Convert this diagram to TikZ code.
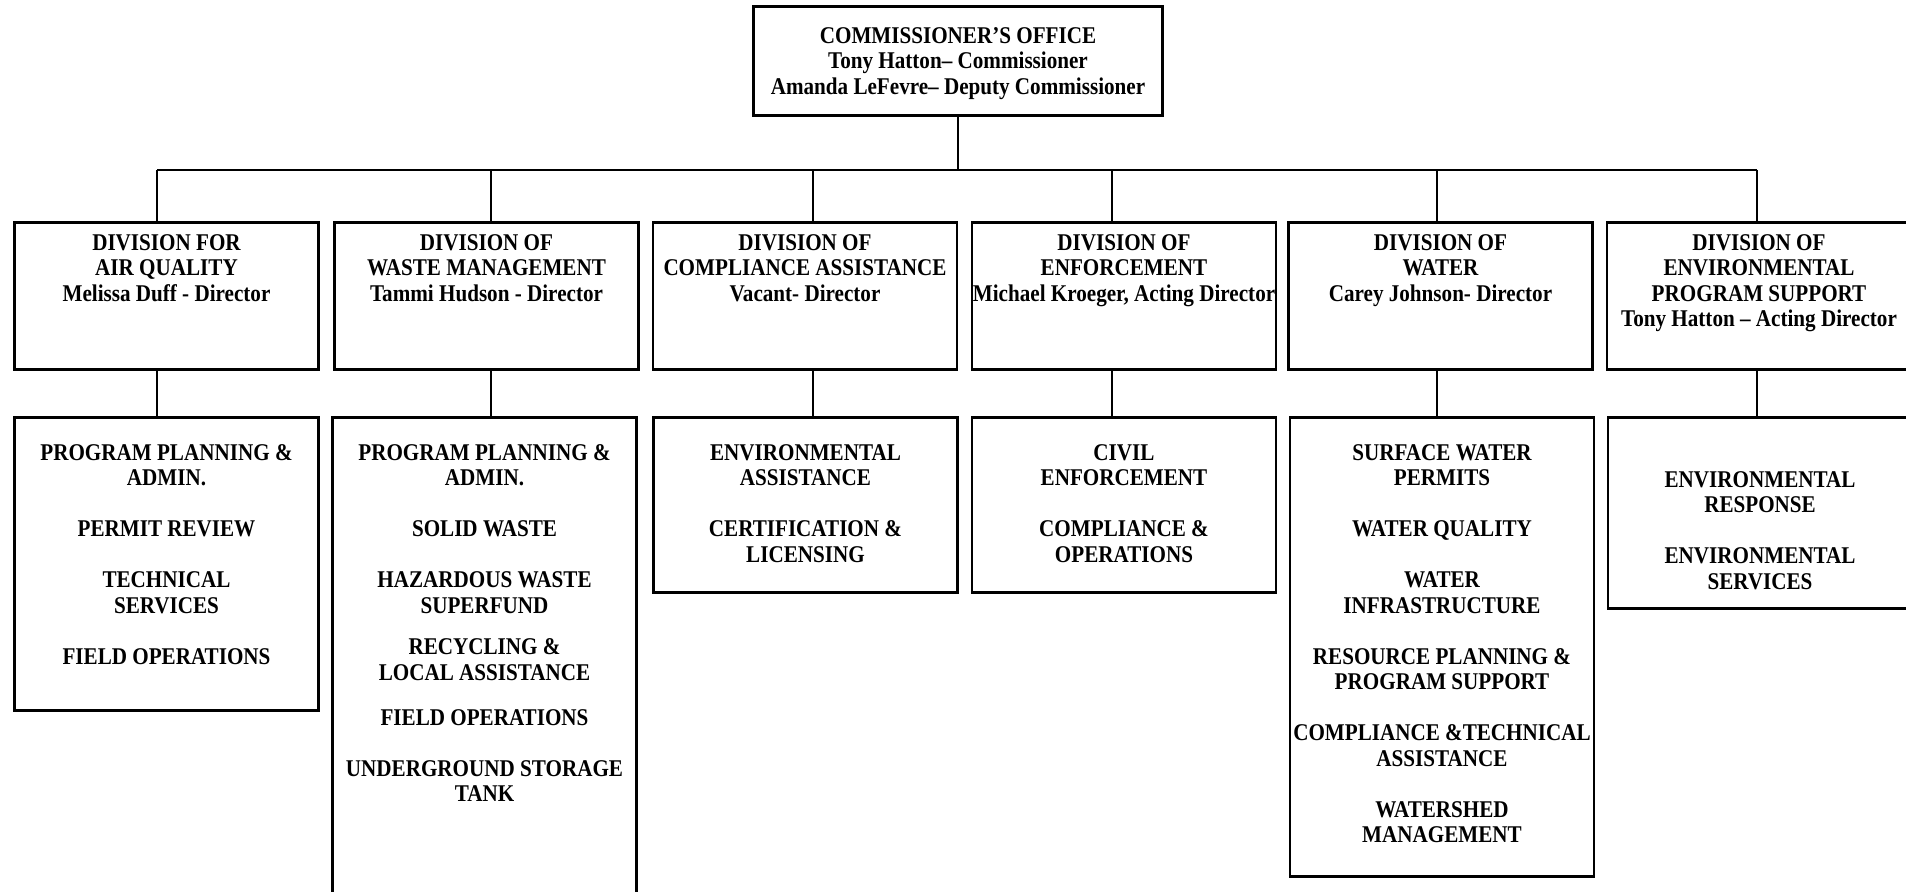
\documentclass[tikz,border=0pt]{standalone}
\usepackage{fontspec}
\setmainfont[FakeStretch=0.88]{Liberation Serif}
\tikzset{
  unit/.style={draw, line width=1.3pt, minimum width=152pt, inner sep=0pt, anchor=north},
  lbl/.style={anchor=north, align=center, inner sep=0pt,
    font=\bfseries\fontsize{12}{12.75}\selectfont},
  link/.style={line width=1.3pt}
}
\begin{document}
\begin{tikzpicture}[x=0.5pt,y=-0.5pt]
  \useasboundingbox (0,0) rectangle (1906,892);

  % commissioner's office
  \node[unit, minimum width=204.5pt, minimum height=54.5pt] (office) at (958,5) {};
  \node[lbl] (officetxt) at (958,27) {COMMISSIONER'S OFFICE\\Tony Hatton-- Commissioner\\Amanda LeFevre-- Deputy Commissioner};

  % divisions
  \node[unit, minimum height=73.5pt] (air) at (166.5,221) {};
  \node[unit, minimum height=73.5pt] (waste) at (486.5,221) {};
  \node[unit, minimum height=73.5pt] (assist) at (805,221) {};
  \node[unit, minimum height=73.5pt] (enforce) at (1124,221) {};
  \node[unit, minimum height=73.5pt] (water) at (1440.5,221) {};
  \node[unit, minimum height=73.5pt] (support) at (1759,221) {};

  \node[lbl] (airtxt) at (166.5,234) {DIVISION FOR\\AIR QUALITY\\Melissa Duff - Director};
  \node[lbl] (wastetxt) at (486.5,234) {DIVISION OF\\WASTE MANAGEMENT\\Tammi Hudson - Director};
  \node[lbl] (assisttxt) at (805,234) {DIVISION OF\\COMPLIANCE ASSISTANCE\\Vacant- Director};
  \node[lbl] (enforcetxt) at (1124,234) {DIVISION OF\\ENFORCEMENT\\Michael Kroeger, Acting Director};
  \node[lbl] (watertxt) at (1440.5,234) {DIVISION OF\\WATER\\Carey Johnson- Director};
  \node[lbl] (supporttxt) at (1759,234) {DIVISION OF\\ENVIRONMENTAL\\PROGRAM SUPPORT\\Tony Hatton -- Acting Director};

  % branches under each division
  \node[unit, minimum height=146.5pt] (airsub) at (166.5,416) {};
  \node[unit, minimum height=245pt] (wastesub) at (484.5,416) {};
  \node[unit, minimum height=87.5pt] (assistsub) at (805.5,416) {};
  \node[unit, minimum height=87.5pt] (enforcesub) at (1124,416) {};
  \node[unit, minimum height=229.5pt] (watersub) at (1442,416) {};
  \node[unit, minimum height=95.5pt] (supportsub) at (1760,416) {};

  \node[lbl] (airsubtxt) at (166.5,444) {PROGRAM PLANNING \&\\ADMIN.\\[12.75pt]PERMIT REVIEW\\[12.75pt]TECHNICAL\\SERVICES\\[12.75pt]FIELD OPERATIONS};
  \node[lbl] (wastesubtxt) at (484.5,444) {PROGRAM PLANNING \&\\ADMIN.\\[12.75pt]SOLID WASTE\\[12.75pt]HAZARDOUS WASTE\\SUPERFUND\\[7.9pt]RECYCLING \&\\LOCAL ASSISTANCE\\[9.7pt]FIELD OPERATIONS\\[12.75pt]UNDERGROUND STORAGE\\TANK};
  \node[lbl] (assistsubtxt) at (805.5,444) {ENVIRONMENTAL\\ASSISTANCE\\[12.75pt]CERTIFICATION \&\\LICENSING};
  \node[lbl] (enforcesubtxt) at (1124,444) {CIVIL\\ENFORCEMENT\\[12.75pt]COMPLIANCE \&\\OPERATIONS};
  \node[lbl] (watersubtxt) at (1442,444) {SURFACE WATER\\PERMITS\\[12.75pt]WATER QUALITY\\[12.75pt]WATER\\INFRASTRUCTURE\\[12.75pt]RESOURCE PLANNING \&\\PROGRAM SUPPORT\\[12.75pt]COMPLIANCE \&TECHNICAL\\ASSISTANCE\\[12.75pt]WATERSHED\\MANAGEMENT};
  \node[lbl] (supportsubtxt) at (1760,471) {ENVIRONMENTAL\\RESPONSE\\[12.75pt]ENVIRONMENTAL\\SERVICES};

  % connectors
  \coordinate (s1) at (157,170);
  \coordinate (s2) at (491,170);
  \coordinate (s3) at (813,170);
  \coordinate (s4) at (1112,170);
  \coordinate (s5) at (1437,170);
  \coordinate (s6) at (1757,170);
  \draw[link] (office.south) -- (office.south |- s1);
  \draw[link] (s1) -- (s6);
  \foreach \s/\a/\b in {s1/air/airsub, s2/waste/wastesub, s3/assist/assistsub,
                        s4/enforce/enforcesub, s5/water/watersub, s6/support/supportsub} {
    \draw[link] (\s) -- (\s |- \a.north);
    \draw[link] (\s |- \a.south) -- (\s |- \b.north);
  }
\end{tikzpicture}
\end{document}
